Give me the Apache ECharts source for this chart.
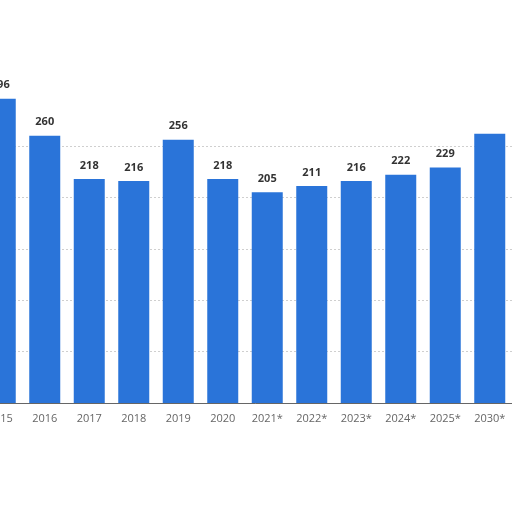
<!DOCTYPE html>
<html>
<head>
<meta charset="utf-8">
<script src="https://cdn.jsdelivr.net/npm/echarts@6/dist/echarts.min.js"></script>
<style>
  html, body { margin: 0; padding: 0; background: #fff; }
  #chart { width: 512px; height: 512px; }
</style>
</head>
<body>
<div id="chart"></div>
<script>
var years = ['2015', '2016', '2017', '2018', '2019', '2020', '2021*', '2022*', '2023*', '2024*', '2025*', '2030*'];
var values = [296, 260, 218, 216, 256, 218, 205, 211, 216, 222, 229, 262];
// the last bar has no visible label in the picture
var hiddenLabels = ['2030*'];

var barColor = '#2a74d9';

var seriesData = values.map(function(v, i) {
    var item = { value: v };
    if (hiddenLabels.indexOf(years[i]) != -1) {
        item.label = { show: false };
    }
    return item;
});

var myChart = echarts.init(document.getElementById('chart'));

var option = {
    animation: false,
    grid: {
        left: -22,
        right: 0,
        top: 146,
        bottom: 109,
        containLabel: false,
        outerBoundsMode: 'none'
    },
    xAxis: {
        type: 'category',
        data: years,
        axisTick: { show: false },
        axisLine: { lineStyle: { color: '#666', width: 1 } },
        axisLabel: {
            color: '#666',
            fontSize: 11,
            fontFamily: 'Open Sans',
            margin: 10,
            interval: 0
        }
    },
    yAxis: {
        type: 'value',
        min: 0,
        max: 250,
        interval: 50,
        axisLabel: { show: false },
        axisLine: { show: false },
        axisTick: { show: false },
        splitLine: {
            lineStyle: { color: '#cfcfcf', type: [2, 2], width: 1 }
        }
    },
    series: [{
        type: 'bar',
        data: seriesData,
        barWidth: 31,
        clip: false,
        itemStyle: { color: barColor },
        label: {
            show: true,
            position: 'top',
            distance: 8,
            color: '#333',
            fontSize: 11,
            fontWeight: 'bold',
            fontFamily: 'Open Sans'
        }
    }]
};

myChart.setOption(option);
</script>
</body>
</html>
